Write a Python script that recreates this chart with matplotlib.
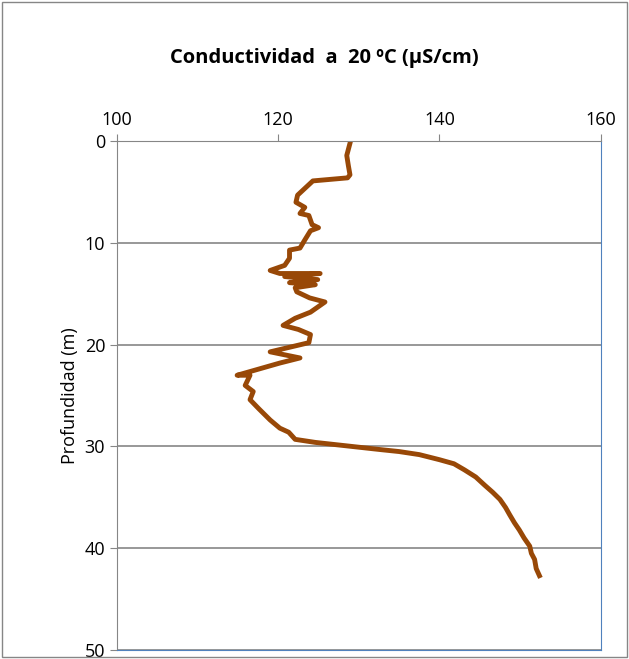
import matplotlib.pyplot as plt

# conductividad (uS/cm) vs profundidad (m)
cond = [128.9, 128.5, 128.7, 128.9, 128.6, 124.3, 122.4, 122.2, 123.3, 122.7, 123.8, 124.2, 125.0, 124.0,
        123.3, 122.7, 121.4, 121.4, 120.8, 119.0, 120.2, 125.2, 120.8, 124.9, 121.4, 124.6, 122.1, 122.3,
        123.9, 125.8, 124.0, 122.1, 120.6, 122.5, 124.0, 123.8, 119.0, 122.7, 120.2, 114.9, 116.5, 115.9,
        116.9, 116.5, 117.6, 119.0, 120.2, 121.3, 122.1, 124.6, 132.6, 135.0, 137.5, 140.0, 141.8, 143.1,
        144.5, 145.6, 146.6, 147.5, 148.2, 148.7, 149.3, 149.9, 150.5, 151.2, 151.4, 151.8, 152.0, 152.4]
prof = [0.2, 1.4, 2.4, 3.3, 3.6, 3.9, 5.3, 6.0, 6.5, 7.1, 7.3, 8.2, 8.5, 8.8,
        9.7, 10.5, 10.7, 11.5, 12.2, 12.7, 13.0, 13.0, 13.3, 13.6, 13.9, 14.1, 14.4, 14.8,
        15.4, 15.8, 16.8, 17.4, 18.1, 18.5, 19.0, 19.8, 20.7, 21.3, 21.8, 23.0, 23.0, 24.0,
        24.6, 25.4, 26.3, 27.4, 28.2, 28.6, 29.3, 29.6, 30.3, 30.5, 30.8, 31.3, 31.7, 32.3,
        33.0, 33.8, 34.5, 35.2, 36.0, 36.7, 37.5, 38.2, 39.0, 39.8, 40.5, 41.1, 42.0, 42.7]

plt.rcParams['font.family'] = ['Open Sans', 'DejaVu Sans']
fig = plt.figure(figsize=(6.29, 6.59), dpi=100)
ax = fig.add_axes([0.186, 0.0137, 0.769, 0.772])
ax.plot(cond, prof, color='#984807', linewidth=3.5)
ax.set_xlim(100, 160)
ax.set_ylim(50, 0)
ax.set_xticks([100, 120, 140, 160])
ax.set_yticks([0, 10, 20, 30, 40, 50])
ax.xaxis.tick_top()
ax.tick_params(labelsize=13, length=5, color='#868686')
ax.grid(axis='y', color='#868686', linewidth=1.2)
for s in ['left', 'top']:
    ax.spines[s].set_color('#868686')
for s in ['right', 'bottom']:
    ax.spines[s].set_color('#4f81bd')
ax.set_ylabel('Profundidad (m)', fontsize=13)
fig.text(0.515, 0.905, 'Conductividad  a  20 ºC (µS/cm)', fontsize=14.5, fontweight='bold', ha='center')
fig.patches.append(plt.Rectangle((0.003, 0.003), 0.994, 0.994, transform=fig.transFigure,
                                 fill=False, edgecolor='#868686', linewidth=1))
fig.savefig('out.png')
